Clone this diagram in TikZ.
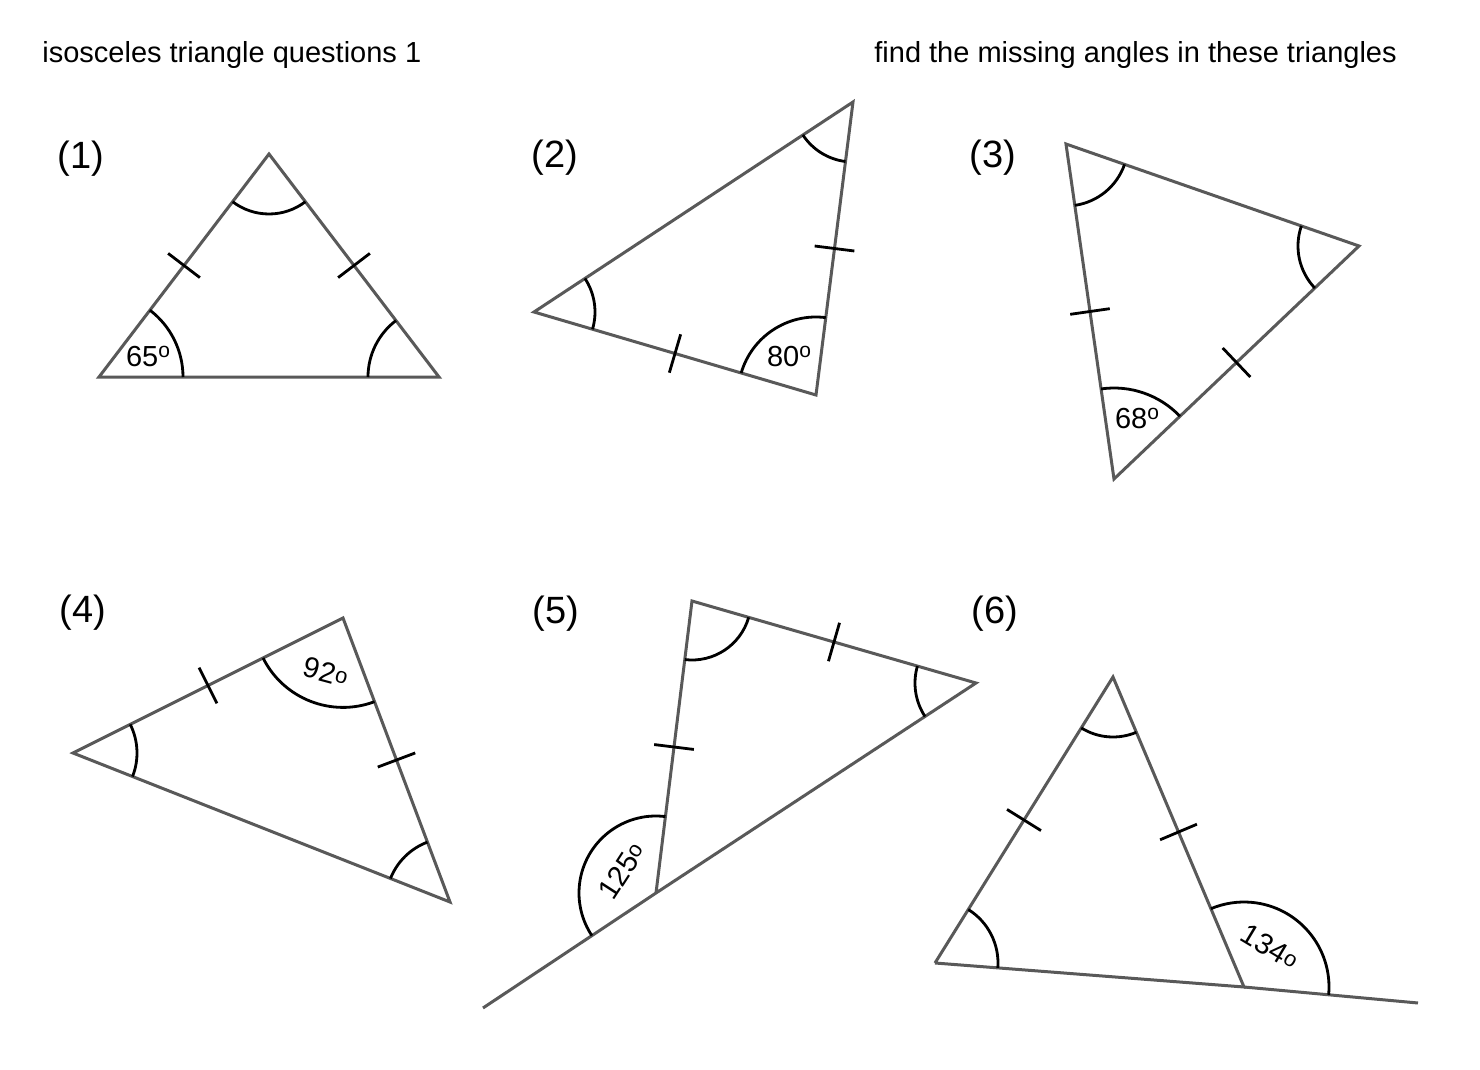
\documentclass[tikz,border=0pt]{standalone}
\usepackage{fontspec}
\setmainfont{Liberation Sans}
\usetikzlibrary{calc,angles}
\newcommand\dgsup{\raisebox{0.3em}{\fontsize{10.5pt}{10.5pt}\selectfont o}}
\newcommand\dglow{\raisebox{0.1em}{\fontsize{11pt}{11pt}\selectfont o}}
\begin{document}
\begin{tikzpicture}[x=0.5pt,y=-0.5pt,
  side/.style={draw=black!65,line width=1.5pt,line join=miter},
  arcmark/.style={draw=black,line width=1.4pt},
  tk/.style={draw=black,line width=1.4pt},
  title/.style={inner sep=0pt,anchor=base west,font=\fontsize{14.5pt}{17pt}\selectfont},
  qnum/.style={inner sep=0pt,anchor=base west,font=\fontsize{19pt}{22pt}\selectfont},
  ang/.style={inner sep=0pt,font=\fontsize{14.5pt}{16pt}\selectfont}]
\newcommand\tickon[2]{\draw[tk] ($(#1)!0.5!(#2)!10pt!90:(#2)$) -- ($(#1)!0.5!(#2)!10pt!-90:(#2)$);}
\fill[white] (0,0) rectangle (1480,1070);
\useasboundingbox (0,0) rectangle (1480,1070);
% titles
\node[title] (t1) at (42,63) {isosceles triangle questions 1};
\node[title] (t2) at (874,63) {find the missing angles in these triangles};
% numbers
\node[qnum] (n1) at (57,169) {(1)};
\node[qnum] (n2) at (531,168) {(2)};
\node[qnum] (n3) at (969,168) {(3)};
\node[qnum] (n4) at (59,622) {(4)};
\node[qnum] (n5) at (532,623) {(5)};
\node[qnum] (n6) at (971,623) {(6)};
% ---------- triangle 1
\coordinate (a1) at (99,377);
\coordinate (b1) at (269,154);
\coordinate (c1) at (439,377);
\draw[side] (a1) -- (b1) -- (c1) -- cycle;
\pic[arcmark,angle radius=42pt] {angle = c1--a1--b1};
\pic[arcmark,angle radius=30pt] {angle = a1--b1--c1};
\pic[arcmark,angle radius=35.5pt] {angle = b1--c1--a1};
\tickon{a1}{b1}
\tickon{b1}{c1}
\node[ang,anchor=base] (l1) at (148,366) {65\dgsup};
% ---------- triangle 2
\coordinate (a2) at (534,312);
\coordinate (b2) at (853,102);
\coordinate (c2) at (816,395);
\draw[side] (a2) -- (b2) -- (c2) -- cycle;
\pic[arcmark,angle radius=30.5pt] {angle = c2--a2--b2};
\pic[arcmark,angle radius=30pt] {angle = a2--b2--c2};
\pic[arcmark,angle radius=39pt] {angle = b2--c2--a2};
\tickon{a2}{c2}
\tickon{b2}{c2}
\node[ang,anchor=base] (l2) at (789,366) {80\dgsup};
% ---------- triangle 3
\coordinate (a3) at (1066,144);
\coordinate (b3) at (1359,246);
\coordinate (c3) at (1114,479);
\draw[side] (a3) -- (b3) -- (c3) -- cycle;
\pic[arcmark,angle radius=31pt] {angle = c3--a3--b3};
\pic[arcmark,angle radius=30.5pt] {angle = a3--b3--c3};
\pic[arcmark,angle radius=45.5pt] {angle = b3--c3--a3};
\tickon{a3}{c3}
\tickon{c3}{b3}
\node[ang,anchor=base] (l3) at (1137,428) {68\dgsup};
% ---------- triangle 4
\coordinate (a4) at (73,753);
\coordinate (b4) at (343,618);
\coordinate (c4) at (450,902);
\draw[side] (a4) -- (b4) -- (c4) -- cycle;
\pic[arcmark,angle radius=32pt] {angle = c4--a4--b4};
\pic[arcmark,angle radius=44.7pt] {angle = a4--b4--c4};
\pic[arcmark,angle radius=32pt] {angle = b4--c4--a4};
\tickon{a4}{b4}
\tickon{b4}{c4}
\node[ang,rotate=-15] (l4) at (326,672) {92\dglow};
% ---------- triangle 5
\coordinate (a5) at (692,601);
\coordinate (b5) at (976,683);
\coordinate (c5) at (656,893);
\coordinate (e5) at (483,1008);
\draw[side] (c5) -- (a5) -- (b5) -- (c5) -- (e5);
\pic[arcmark,angle radius=29.5pt] {angle = c5--a5--b5};
\pic[arcmark,angle radius=30.5pt] {angle = a5--b5--c5};
\pic[arcmark,angle radius=38.5pt] {angle = a5--c5--e5};
\tickon{a5}{c5}
\tickon{a5}{b5}
\node[ang,rotate=57] (l5) at (622,871) {125\dglow};
% ---------- triangle 6
\coordinate (a6) at (935,963);
\coordinate (b6) at (1113,677);
\coordinate (c6) at (1244,987);
\coordinate (e6) at (1418,1003);
\draw[side] (a6) -- (b6) -- (c6) -- (a6);
\draw[side] (c6) -- (e6);
\pic[arcmark,angle radius=31.5pt] {angle = c6--a6--b6};
\pic[arcmark,angle radius=30pt] {angle = a6--b6--c6};
\pic[arcmark,angle radius=42.5pt] {angle = e6--c6--b6};
\tickon{a6}{b6}
\tickon{b6}{c6}
\node[ang,rotate=-31] (l6) at (1270,947) {134\dglow};
\end{tikzpicture}
\end{document}
